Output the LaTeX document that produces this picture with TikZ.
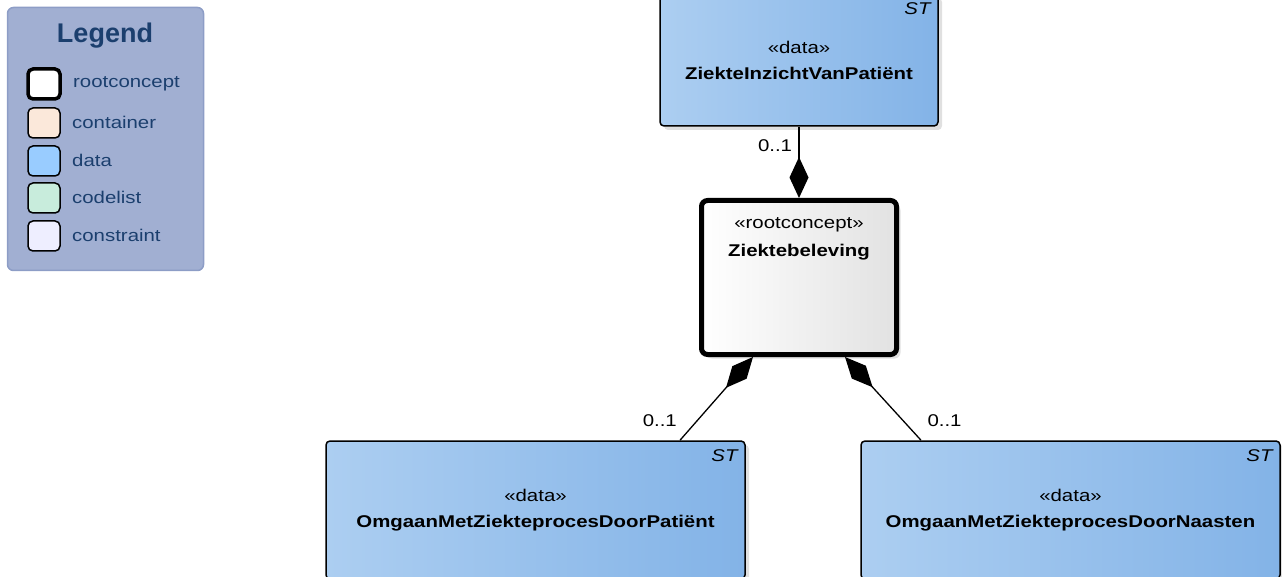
\documentclass[tikz,border=0pt]{standalone}
\usepackage{fontspec}
\setmainfont{Liberation Sans}[FakeStretch=1.2]
\newfontfamily\legendfont{Liberation Sans}
\usetikzlibrary{arrows.meta,shadows,positioning}

\definecolor{legendbg}{HTML}{A1AFD2}
\definecolor{legendline}{HTML}{8D9DC6}
\definecolor{legendtext}{HTML}{1B3F6E}
\definecolor{dataleft}{HTML}{ACCEF1}
\definecolor{dataright}{HTML}{83B3E7}
\definecolor{rootright}{HTML}{E2E2E2}
\definecolor{containerfill}{HTML}{FBE8DA}
\definecolor{datafill}{HTML}{99CCFF}
\definecolor{codelistfill}{HTML}{C8ECDC}
\definecolor{constraintfill}{HTML}{EEEEFF}

\tikzset{
  boxshadow/.style={drop shadow={shadow xshift=4pt,shadow yshift=-4pt,fill=black!12,opacity=1}},
  databox/.style={draw=black, line width=1.5pt, rounded corners=4pt,
    left color=dataleft, right color=dataright, boxshadow,
    align=center, font=\fontsize{17}{26}\selectfont,
    label={[anchor=north east, inner sep=0pt, xshift=-8pt, yshift=-9pt,
      font=\fontsize{17}{18}\selectfont\itshape]north east:ST}},
  rootbox/.style={draw=black, line width=5pt, rounded corners=6pt,
    left color=white, right color=rootright, boxshadow,
    minimum width=195pt, minimum height=154pt},
  swatch/.style={draw=black, line width=1.5pt, rounded corners=5pt,
    minimum width=32pt, minimum height=30pt},
  legtext/.style={anchor=west, text=legendtext, inner sep=0pt,
    font=\fontsize{17}{20}\selectfont},
  comp/.style={line width=1.3pt, {Diamond[length=41pt,width=19pt]}-},
  mult/.style={font=\fontsize{17}{18}\selectfont}
}

\begin{document}
\begin{tikzpicture}[x=1pt,y=-1pt]
    \useasboundingbox (0,0) rectangle (1282,577);

    % legend
    \node[draw=legendline, line width=1.5pt, fill=legendbg, rounded corners=6pt,
      minimum width=196pt, minimum height=263pt] (legend) at (105.5,139) {};
    \node[text=legendtext, font=\legendfont\fontsize{27}{30}\selectfont\bfseries] (legtitle) at (105,36) {Legend};

    \node[swatch, line width=3.5pt, fill=white] (swroot) at (44,84) {};
    \node[swatch, fill=containerfill] (swcont) at (44,123) {};
    \node[swatch, fill=datafill] (swdata) at (44,161) {};
    \node[swatch, fill=codelistfill] (swcode) at (44,198) {};
    \node[swatch, fill=constraintfill] (swcons) at (44,236) {};

    \node[legtext] (txroot) at (73,84) {rootconcept};
    \node[legtext] (txcont) at (72,122) {container};
    \node[legtext] (txdata) at (72,160) {data};
    \node[legtext] (txcode) at (72,197) {codelist};
    \node[legtext] (txcons) at (72,235) {constraint};

    % classes
    \node[databox, minimum width=278pt, minimum height=132pt] (inzicht) at (799,60)
      {«data»\\\textbf{ZiekteInzichtVanPatiënt}};
    \node[rootbox] (beleving) at (799,277.5) {};
    \node[below=19pt of beleving.north, inner sep=0pt, align=center,
      font=\fontsize{17}{28}\selectfont] (belevinglbl)
      {«rootconcept»\\\textbf{Ziektebeleving}};
    \node[databox, minimum width=419pt, minimum height=138pt] (omgpatient) at (535.5,510)
      {«data»\\\textbf{OmgaanMetZiekteprocesDoorPatiënt}};
    \node[databox, minimum width=419pt, minimum height=138pt] (omgnaasten) at (1070.5,510)
      {«data»\\\textbf{OmgaanMetZiekteprocesDoorNaasten}};

    % compositions
    \draw[comp] (beleving.north) -- (inzicht.south)
      node[mult, pos=0.74, left=3pt] (m1) {0..1};
    \draw[comp] ([xshift=-46pt]beleving.south) -- ([xshift=144.5pt]omgpatient.north)
      node[mult, pos=0.77, left=16pt] (m2) {0..1};
    \draw[comp] ([xshift=46pt]beleving.south) -- ([xshift=-149.5pt]omgnaasten.north)
      node[mult, pos=0.77, right=20pt] (m3) {0..1};

\end{tikzpicture}
\end{document}
